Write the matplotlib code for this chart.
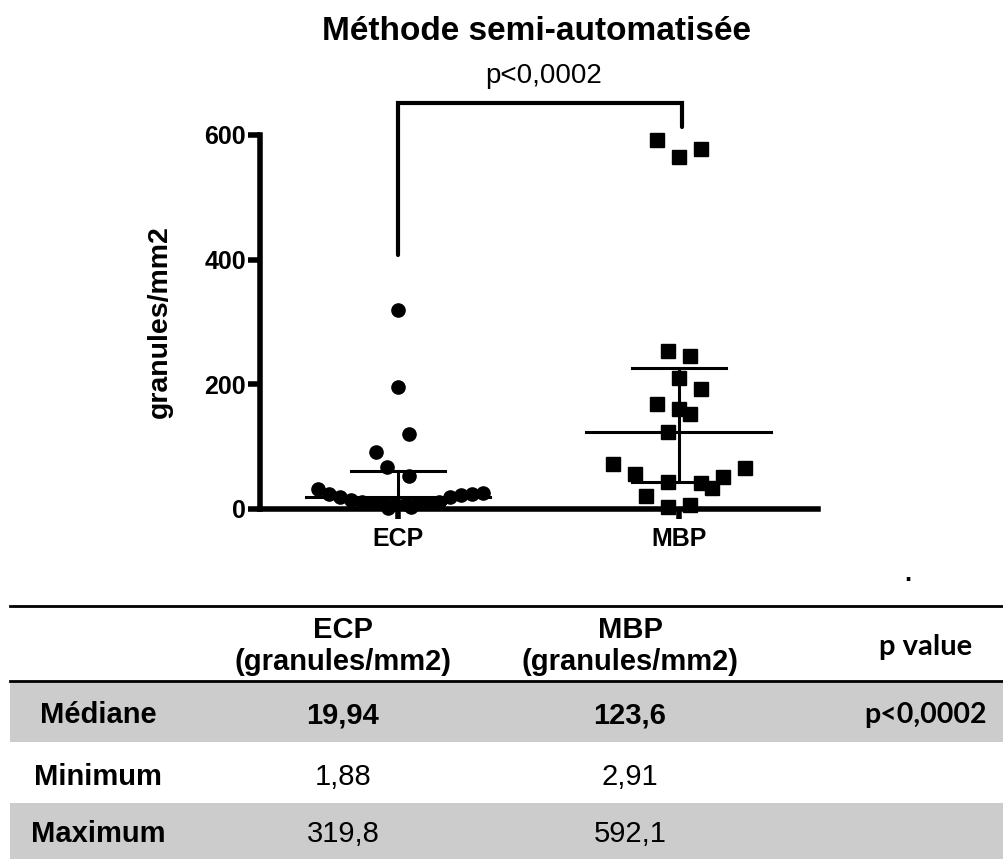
import matplotlib
matplotlib.use("Agg")
import matplotlib.pyplot as plt
from matplotlib.patches import Rectangle
from matplotlib.lines import Line2D

plt.rcParams['font.family'] = ['Liberation Sans', 'DejaVu Sans']

# data
categories = ["ECP", "MBP"]

ecp_values = [319.8, 196, 121, 92, 68, 53,
              32, 24, 20, 14, 12, 10, 9, 8, 8, 9, 10, 12, 19.9, 22, 24, 26,
              1.88, 3]
ecp_slots = [0, 0, 1, -2, -1, 1,
             -7.3, -6.3, -5.3, -4.3, -3.3, -2.3, -1.3, -0.3, 0.7, 1.7, 2.7, 3.7, 4.7, 5.7, 6.7, 7.7,
             -0.9, 1.2]

mbp_values = [592.1, 564, 578, 254, 246, 210, 193, 168, 160, 152, 123.6,
              72, 56, 65, 44, 41, 52, 33, 21, 2.91, 6]
mbp_slots = [-2, 0, 2, -1, 1, 0, 2, -2, 0, 1, -1,
             -6, -4, 6, -1, 2, 4, 3, -3, -1, 1]

medians = [19.94, 123.6]
q1 = [9, 43]
q3 = [61, 227]

p_text = "p<0,0002"

row_labels = ["Médiane", "Minimum", "Maximum"]
ecp_col = ["19,94", "1,88", "319,8"]
mbp_col = ["123,6", "2,91", "592,1"]
p_col = ["p<0,0002", "", ""]

W, H = 1004, 859
fig = plt.figure(figsize=(W / 100, H / 100), dpi=100)

def fx(x):
    return x / W

def fy(y):
    return 1 - y / H

# axes placed in pixel terms
ax = fig.add_axes([fx(260), fy(509), (818 - 260) / W, (509 - 135) / H])
ax.set_xlim(-0.491, 1.495)
ax.set_ylim(0, 600)

slot = 11 / 281.0
lw_axis = 4.0

ex = [0 + s * slot for s in ecp_slots]
mx = [1 + s * slot for s in mbp_slots]
ax.plot(ex, ecp_values, 'o', color='black', ms=9.5, clip_on=False, zorder=3)
ax.plot(mx, mbp_values, 's', color='black', ms=9.5, clip_on=False, zorder=3)

for i in range(2):
    ax.plot([i - 0.329, i + 0.329], [medians[i], medians[i]], color='black', lw=2.2,
            clip_on=False, zorder=4)
    ax.plot([i - 0.167, i + 0.167], [q1[i], q1[i]], color='black', lw=2.2,
            clip_on=False, zorder=4)
    ax.plot([i - 0.167, i + 0.167], [q3[i], q3[i]], color='black', lw=2.2,
            clip_on=False, zorder=4)
    ax.plot([i, i], [q1[i], q3[i]], color='black', lw=2.2, clip_on=False, zorder=4)

# significance bracket
ax.plot([0, 0, 1.01, 1.01], [407, 651, 651, 613], color='black', lw=3.0,
        solid_capstyle='round', solid_joinstyle='miter', clip_on=False)
ax.text(0.52, 694, p_text, ha='center', va='center', fontsize=20)

for s in ['top', 'right']:
    ax.spines[s].set_visible(False)
ax.spines['left'].set_linewidth(lw_axis)
ax.spines['bottom'].set_linewidth(lw_axis)
ax.spines['left'].set_bounds(0, 600)
ax.set_yticks([0, 200, 400, 600])
ax.set_xticks([0, 1])
ax.set_xticklabels(categories)
ax.tick_params(axis='y', length=9, width=lw_axis, labelsize=18, pad=1)
ax.tick_params(axis='x', length=7, width=lw_axis, labelsize=18, pad=6)
for t in ax.get_xticklabels() + ax.get_yticklabels():
    t.set_fontweight('bold')
fig.text(fx(160), fy(322), "granules/mm2", rotation=90, ha='center', va='center',
         fontsize=20.5, fontweight='bold')

fig.text(fx(537), fy(32), "Méthode semi-automatisée", ha='center', va='center',
         fontsize=24, fontweight='bold')
fig.text(fx(908), fy(574), ".", ha='center', va='center', fontsize=18, fontweight='bold')

# table
row_tops = [681, 742, 803]
row_bots = [742, 803, 859]
row_fill = ['#cccccc', 'white', '#cccccc']
for top, bot, c in zip(row_tops, row_bots, row_fill):
    fig.add_artist(Rectangle((fx(10), fy(bot)), (W - 10) / W, (bot - top) / H,
                             transform=fig.transFigure, facecolor=c, edgecolor='none'))
fig.add_artist(Line2D([fx(10), 1], [fy(606), fy(606)], transform=fig.transFigure,
                      color='black', lw=2))
fig.add_artist(Line2D([fx(10), 1], [fy(681), fy(681)], transform=fig.transFigure,
                      color='black', lw=2))

col_x = [98, 343, 630, 926]
tfs = 21
for j in range(2):
    fig.text(fx(col_x[j + 1]), fy(630), categories[j], ha='center', va='center',
             fontsize=tfs, fontweight='bold')
    fig.text(fx(col_x[j + 1]), fy(662), "(granules/mm2)", ha='center', va='center',
             fontsize=tfs, fontweight='bold')
fig.text(fx(col_x[3]), fy(647), "p value", ha='center', va='center', fontsize=21,
         fontweight='bold', family=['Lato', 'DejaVu Sans'])

row_y = [715, 777, 834]
for i in range(3):
    bold = 'bold' if i == 0 else 'normal'
    fig.text(fx(col_x[0]), fy(row_y[i]), row_labels[i], ha='center', va='center',
             fontsize=tfs, fontweight='bold')
    fig.text(fx(col_x[1]), fy(row_y[i]), ecp_col[i], ha='center', va='center',
             fontsize=tfs, fontweight=bold)
    fig.text(fx(col_x[2]), fy(row_y[i]), mbp_col[i], ha='center', va='center',
             fontsize=tfs, fontweight=bold)
    if p_col[i]:
        fig.text(fx(col_x[3]), fy(row_y[i]), p_col[i], ha='center', va='center',
                 fontsize=20.5, fontweight='bold', family=['Lato', 'DejaVu Sans'])

fig.savefig("out.png", dpi=100)
